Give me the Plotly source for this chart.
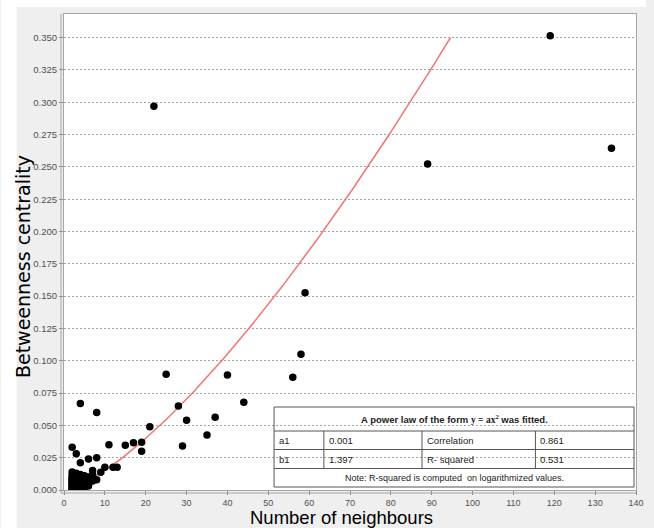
import plotly.graph_objects as go
import numpy as np

# ---------------- data ----------------
neighbours = [
    2, 2, 2, 2, 2, 2, 2, 2, 2, 2, 2, 2, 2, 2, 2,
    3, 3, 3, 3, 3, 3, 3, 3, 3, 3, 3, 3, 3, 3, 3,
    4, 4, 4, 4, 4, 4, 4, 4, 4, 4, 4,
    5, 5, 5, 5, 5, 5,
    6, 6, 6, 6, 6, 6,
    7, 7, 7, 7,
    8, 8, 8,
    9, 10, 11, 12, 13, 15, 17, 19, 19, 21, 22, 25, 28, 29, 30,
    35, 37, 40, 44, 56, 58, 59, 89, 119, 134,
]
betweenness = [
    0.000, 0.0005, 0.001, 0.002, 0.003, 0.004, 0.005, 0.006, 0.007, 0.008, 0.009, 0.010, 0.012, 0.014, 0.033,
    0.0005, 0.001, 0.002, 0.003, 0.004, 0.005, 0.006, 0.007, 0.008, 0.009, 0.010, 0.011, 0.012, 0.013, 0.028,
    0.001, 0.002, 0.004, 0.005, 0.006, 0.008, 0.009, 0.010, 0.012, 0.021, 0.067,
    0.002, 0.003, 0.005, 0.007, 0.009, 0.011,
    0.003, 0.004, 0.006, 0.008, 0.010, 0.024,
    0.007, 0.009, 0.012, 0.015,
    0.008, 0.025, 0.060,
    0.0137, 0.0176, 0.035, 0.0176, 0.0176, 0.0346, 0.0366, 0.037, 0.030, 0.049, 0.297, 0.0895, 0.065, 0.034, 0.054,
    0.0426, 0.0563, 0.089, 0.0679, 0.0872, 0.105, 0.1527, 0.2523, 0.3514, 0.2645,
]

# power-law fit y = a * x^b  (b as printed, a as drawn)
FIT_A = 0.000608
FIT_B = 1.397
FIT_X_START = 2.0
FIT_X_END = 94.6

x_tick_values = list(range(0, 141, 10))
y_tick_values = [0.000, 0.025, 0.050, 0.075, 0.100, 0.125, 0.150, 0.175,
                 0.200, 0.225, 0.250, 0.275, 0.300, 0.325, 0.350]

x_title = "Number of neighbours"
y_title = "Betweenness centrality"

table_header = ("A power law of the form "
                "<span style='font-family:Liberation Serif, Times New Roman, serif'>y = ax<sup>2</sup></span>"
                " was fitted.")
table_rows = [
    ["a1", "0.001", "Correlation", "0.861"],
    ["b1", "1.397", "R- squared", "0.531"],
]
table_note = "Note: R-squared is computed  on logarithmized values."

# ---------------- layout geometry ----------------
W, H = 654, 528
ML, MR, MT, MB = 64, 10, 14, 38
PW, PH = W - ML - MR, H - MT - MB
BOTTOM = H - MB


def fx(px):
    return (px - ML) / PW


def fy(py):
    return (BOTTOM - py) / PH


fig = go.Figure()

fit_x = np.linspace(FIT_X_START, FIT_X_END, 200)
fit_y = FIT_A * fit_x ** FIT_B
fig.add_trace(go.Scatter(x=fit_x, y=fit_y, mode="lines",
                         line=dict(color="#f27474", width=1.5),
                         hoverinfo="skip", showlegend=False))

fig.add_trace(go.Scatter(x=neighbours, y=betweenness, mode="markers",
                         marker=dict(color="black", size=7.5, line=dict(width=0)),
                         showlegend=False))

shapes = []
# white strips at top / left of the image
shapes.append(dict(type="rect", xref="paper", yref="paper", layer="below",
                   x0=fx(0), x1=fx(16), y0=fy(H), y1=fy(0),
                   fillcolor="white", line=dict(width=0)))
shapes.append(dict(type="rect", xref="paper", yref="paper", layer="below",
                   x0=fx(0), x1=fx(W), y0=fy(7), y1=fy(0),
                   fillcolor="white", line=dict(width=0)))
# double border lines left / bottom
border_col = "#a6a6a6"
shapes.append(dict(type="line", xref="paper", yref="paper",
                   x0=fx(61), x1=fx(61), y0=fy(493), y1=fy(MT),
                   line=dict(color=border_col, width=1)))
shapes.append(dict(type="line", xref="paper", yref="paper",
                   x0=fx(61), x1=fx(W - MR), y0=fy(493), y1=fy(493),
                   line=dict(color=border_col, width=1)))

# table frame
T_L, T_R, T_T, T_B = 277, 642, 407, 487
ROW_LINES = [431, 449.5, 468.5]
COL_LINES = [327.5, 427, 542]
tcol = "#555555"
shapes.append(dict(type="rect", xref="paper", yref="paper",
                   x0=fx(T_L), x1=fx(T_R), y0=fy(T_B), y1=fy(T_T),
                   line=dict(color=tcol, width=1)))
for r in ROW_LINES:
    shapes.append(dict(type="line", xref="paper", yref="paper",
                       x0=fx(T_L), x1=fx(T_R), y0=fy(r), y1=fy(r),
                       line=dict(color=tcol, width=1)))
for c in COL_LINES:
    shapes.append(dict(type="line", xref="paper", yref="paper",
                       x0=fx(c), x1=fx(c), y0=fy(ROW_LINES[2]), y1=fy(ROW_LINES[0]),
                       line=dict(color=tcol, width=1)))

tfam = "Liberation Sans Narrow, Arial Narrow, Arial, sans-serif"
annotations = []
annotations.append(dict(xref="paper", yref="paper", x=fx((T_L + T_R) / 2), y=fy((T_T + ROW_LINES[0]) / 2),
                        text="<b>" + table_header + "</b>", showarrow=False,
                        xanchor="center", yanchor="middle",
                        font=dict(family=tfam, size=9.5, color="#222")))
col_x = [T_L + 3, COL_LINES[0] + 3, COL_LINES[1] + 3, COL_LINES[2] + 3]
row_y = [(ROW_LINES[0] + ROW_LINES[1]) / 2, (ROW_LINES[1] + ROW_LINES[2]) / 2]
for ri, row in enumerate(table_rows):
    for ci, cell in enumerate(row):
        annotations.append(dict(xref="paper", yref="paper", x=fx(col_x[ci]), y=fy(row_y[ri]),
                                text=cell, showarrow=False, xanchor="left", yanchor="middle",
                                font=dict(family=tfam, size=9.5, color="#222")))
annotations.append(dict(xref="paper", yref="paper", x=fx((T_L + T_R) / 2), y=fy((ROW_LINES[2] + T_B) / 2),
                        text=table_note, showarrow=False, xanchor="center", yanchor="middle",
                        font=dict(family=tfam, size=9, color="#222")))

# axis titles
annotations.append(dict(xref="paper", yref="paper", x=fx(22.5), y=fy(267), text=y_title,
                        textangle=-90, showarrow=False, xanchor="center", yanchor="middle",
                        font=dict(family="DejaVu Sans, Arial, sans-serif", size=19, color="black")))
annotations.append(dict(xref="paper", yref="paper", x=fx(345), y=fy(517), text=x_title,
                        showarrow=False, xanchor="center", yanchor="middle",
                        font=dict(family="Arial, Liberation Sans, sans-serif", size=18.5, color="black")))

fig.update_layout(
    width=W, height=H,
    margin=dict(l=ML, r=MR, t=MT, b=MB, pad=0),
    paper_bgcolor="#efefef",
    plot_bgcolor="white",
    showlegend=False,
    shapes=shapes,
    annotations=annotations,
    font=dict(family="Arial, Liberation Sans, sans-serif"),
)
fig.update_xaxes(range=[0, 140], tickvals=x_tick_values, showgrid=False, zeroline=False,
                 showline=True, linecolor=border_col, linewidth=1, mirror=True,
                 ticks="outside", ticklen=4, tickcolor="#8a8a8a",
                 tickfont=dict(size=9, color="#505050"))
fig.update_yaxes(range=[0, 0.3683], tickvals=y_tick_values, tickformat=".3f",
                 showgrid=True, gridcolor="#a3a3a3", gridwidth=1, griddash="2px,2px",
                 zeroline=False, showline=True, linecolor=border_col, linewidth=1, mirror=True,
                 ticks="outside", ticklen=4, tickcolor="#8a8a8a",
                 tickfont=dict(size=9.5, color="#505050"))

fig.write_html("out.html")
